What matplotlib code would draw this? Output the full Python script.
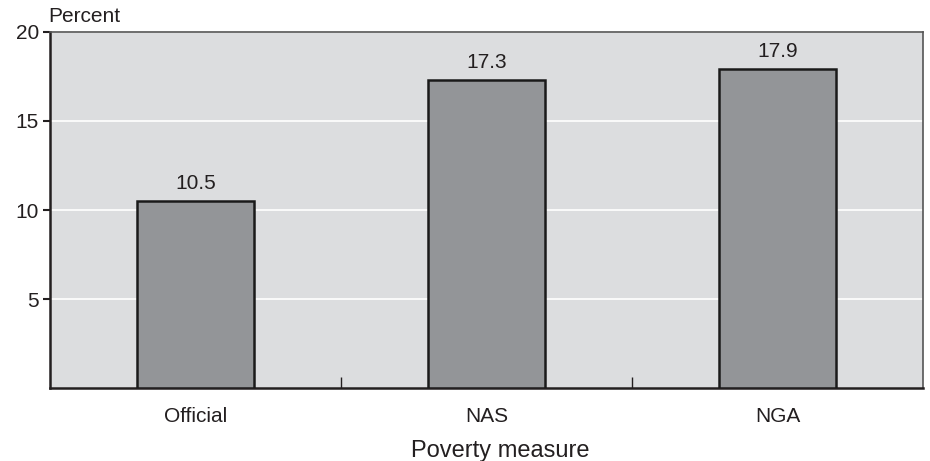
import matplotlib
matplotlib.use("Agg")
import matplotlib.pyplot as plt

categories = ["Official", "NAS", "NGA"]
values = [10.5, 17.3, 17.9]
yticks = [5, 10, 15, 20]

plt.rcParams['font.family'] = ['Liberation Sans', 'DejaVu Sans']
TXT = '#231f20'

fig = plt.figure(figsize=(9.3, 4.61), dpi=100)
ax = fig.add_axes([50/930, 1-388/461, (923-50)/930, (388-32)/461])
ax.set_facecolor('#dcdddf')

x = list(range(len(categories)))
ax.bar(x, values, width=0.4, color='#939598', edgecolor='#1a1a1a', linewidth=1.8, zorder=3)
for xi, v in zip(x, values):
    ax.annotate(f"{v}", (xi, v), xytext=(0, 9), textcoords='offset points',
                ha='center', va='baseline', fontsize=15, color=TXT)

ax.set_xlim(-0.5, len(categories) - 0.5)
ax.set_ylim(0, 20)
ax.set_yticks(yticks)
ax.set_yticklabels([str(t) for t in yticks], fontsize=15, color=TXT)
ax.yaxis.grid(True, color='white', linewidth=1.2, zorder=1)
ax.set_axisbelow(True)
ax.tick_params(axis='y', direction='out', length=5, width=1.5, color=TXT, pad=3)

ax.set_xticks(x)
ax.set_xticklabels(categories, fontsize=15, color=TXT)
ax.tick_params(axis='x', which='major', length=0, pad=14)
ax.set_xticks([i + 0.5 for i in x[:-1]], minor=True)
ax.tick_params(axis='x', which='minor', direction='in', length=8, width=1, color=TXT)

for s in ['left', 'bottom']:
    ax.spines[s].set_color(TXT)
    ax.spines[s].set_linewidth(1.8)
for s in ['top', 'right']:
    ax.spines[s].set_color('#555555')
    ax.spines[s].set_linewidth(1.2)

fig.text(48/930, 1-22/461, "Percent", fontsize=15, color=TXT, ha='left', va='baseline')
fig.text(500/930, 1-457/461, "Poverty measure", fontsize=17, color=TXT, ha='center', va='baseline')

fig.savefig("out.png", dpi=100, facecolor='white')
